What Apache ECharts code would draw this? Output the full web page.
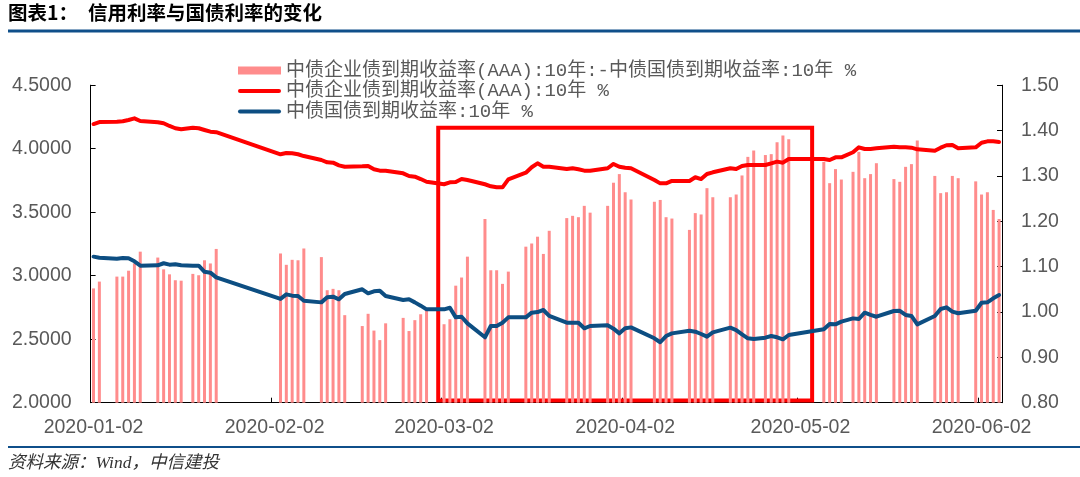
<!DOCTYPE html>
<html>
<head>
<meta charset="utf-8">
<script src="https://cdn.jsdelivr.net/npm/echarts@6/dist/echarts.min.js"></script>
<style>html,body{margin:0;padding:0;background:#fff}#c{width:1080px;height:477px}</style>
</head>
<body>
<div id="c"></div>
<script>
// ---- data ----
const tradeDates = [
 '2020-01-02','2020-01-03','2020-01-06','2020-01-07','2020-01-08','2020-01-09','2020-01-10',
 '2020-01-13','2020-01-14','2020-01-15','2020-01-16','2020-01-17','2020-01-19','2020-01-20',
 '2020-01-21','2020-01-22','2020-01-23',
 '2020-02-03','2020-02-04','2020-02-05','2020-02-06','2020-02-07','2020-02-10','2020-02-11',
 '2020-02-12','2020-02-13','2020-02-14','2020-02-17','2020-02-18','2020-02-19','2020-02-20',
 '2020-02-21','2020-02-24','2020-02-25','2020-02-26','2020-02-27','2020-02-28',
 '2020-03-02','2020-03-03','2020-03-04','2020-03-05','2020-03-06','2020-03-09','2020-03-10',
 '2020-03-11','2020-03-12','2020-03-13','2020-03-16','2020-03-17','2020-03-18','2020-03-19',
 '2020-03-20','2020-03-23','2020-03-24','2020-03-25','2020-03-26','2020-03-27','2020-03-30',
 '2020-03-31',
 '2020-04-01','2020-04-02','2020-04-03','2020-04-07','2020-04-08','2020-04-09','2020-04-10',
 '2020-04-13','2020-04-14','2020-04-15','2020-04-16','2020-04-17','2020-04-20','2020-04-21',
 '2020-04-22','2020-04-23','2020-04-24','2020-04-26','2020-04-27','2020-04-28','2020-04-29',
 '2020-04-30',
 '2020-05-06','2020-05-07','2020-05-08','2020-05-09','2020-05-11','2020-05-12','2020-05-13',
 '2020-05-14','2020-05-15','2020-05-18','2020-05-19','2020-05-20','2020-05-21','2020-05-22',
 '2020-05-25','2020-05-26','2020-05-27','2020-05-28','2020-05-29',
 '2020-06-01','2020-06-02','2020-06-03','2020-06-04','2020-06-05'
];
// spread AAA - government (right axis)
const spreadValues = [
 1.052,1.067,1.078,1.078,1.091,1.107,1.133,1.120,1.094,1.083,1.070,1.069,1.084,1.081,1.114,1.107,1.139,
 1.129,1.104,1.115,1.114,1.140,1.121,1.048,1.051,1.048,0.993,0.969,0.996,0.959,0.938,0.975,0.987,0.958,0.982,0.995,1.003,
 0.973,0.984,1.058,1.076,1.122,1.205,1.092,1.092,1.062,1.089,1.144,1.151,1.166,1.128,1.179,1.207,1.212,1.209,1.234,1.219,1.234,1.285,
 1.304,1.264,1.248,1.243,1.247,1.209,1.206,1.181,1.218,1.215,1.273,1.253,1.253,1.259,1.301,1.342,1.356,1.346,1.348,1.374,1.389,1.381,
 1.331,1.284,1.315,1.292,1.309,1.353,1.295,1.304,1.328,1.293,1.287,1.320,1.326,1.378,1.300,1.262,1.264,1.300,1.295,
 1.288,1.259,1.264,1.225,1.205
];
// AAA corporate 10Y yield (left axis)
const aaaValues = [
 4.194,4.210,4.213,4.216,4.226,4.239,4.218,4.208,4.200,4.179,4.161,4.153,4.165,4.161,4.147,4.134,4.130,
 3.956,3.966,3.964,3.956,3.942,3.911,3.893,3.890,3.869,3.858,3.861,3.864,3.838,3.827,3.827,3.806,3.785,3.780,3.761,3.740,
 3.720,3.735,3.738,3.761,3.754,3.720,3.704,3.696,3.696,3.759,3.811,3.854,3.885,3.858,3.858,3.840,3.846,3.838,3.827,3.827,3.846,3.880,
 3.858,3.850,3.846,3.754,3.727,3.727,3.746,3.746,3.775,3.761,3.801,3.814,3.846,3.840,3.864,3.872,3.872,3.872,3.885,3.898,3.890,3.919,
 3.919,3.911,3.932,3.932,3.972,4.011,3.998,3.998,4.003,4.016,4.011,4.011,4.008,3.995,3.984,4.008,4.027,4.029,4.003,
 4.011,4.047,4.058,4.058,4.053
];
// Government 10Y yield (left axis)
const govValues = [
 3.150,3.142,3.134,3.139,3.137,3.113,3.079,3.082,3.098,3.087,3.090,3.082,3.079,3.079,3.031,3.024,2.987,
 2.817,2.853,2.843,2.840,2.803,2.790,2.830,2.835,2.814,2.856,2.893,2.861,2.877,2.882,2.840,2.809,2.814,2.790,2.764,2.735,
 2.735,2.748,2.672,2.677,2.625,2.515,2.604,2.604,2.630,2.672,2.672,2.709,2.714,2.730,2.683,2.630,2.630,2.630,2.586,2.604,2.609,2.583,
 2.546,2.586,2.593,2.507,2.476,2.525,2.546,2.567,2.559,2.541,2.520,2.554,2.591,2.572,2.538,2.507,2.502,2.512,2.525,2.515,2.499,2.533,
 2.578,2.620,2.617,2.638,2.664,2.659,2.709,2.691,2.677,2.722,2.724,2.691,2.683,2.617,2.683,2.738,2.751,2.717,2.704,
 2.724,2.787,2.790,2.822,2.848
];
const axisStart = '2020-01-02';
const axisEnd = '2020-06-05';
const xTickLabels = ['2020-01-02','2020-02-02','2020-03-02','2020-04-02','2020-05-02','2020-06-02'];
const leftAxis = {min: 2.0, max: 4.5, interval: 0.5};
const rightAxis = {min: 0.8, max: 1.5, interval: 0.1};
const highlightBox = {from: '2020-03-01', to: '2020-05-04', top: 4.165, bottom: 2.018};

const seriesNames = [
 '中债企业债到期收益率(AAA):10年:-中债国债到期收益率:10年 %',
 '中债企业债到期收益率(AAA):10年 %',
 '中债国债到期收益率:10年 %'
];

// ---- build calendar category axis ----
const calendar = [];
for (let d = new Date(axisStart + 'T00:00:00Z'); d <= new Date(axisEnd + 'T00:00:00Z'); d.setUTCDate(d.getUTCDate() + 1)) {
  calendar.push(d.toISOString().slice(0, 10));
}
function onCalendar(values) {
  const out = calendar.map(() => null);
  tradeDates.forEach((t, i) => { out[calendar.indexOf(t)] = values[i]; });
  return out;
}

const labelColor = '#595959';
const numFont = 'Liberation Sans, Arial, sans-serif';
const legendFont = '"Liberation Mono", "Noto Sans CJK SC", monospace';
const lineIcon = 'path://M2,0L41,0A2,2,0,0,1,41,4L2,4A2,2,0,0,1,2,0Z';

const chart = echarts.init(document.getElementById('c'), null, {renderer: 'canvas'});
chart.setOption({
  animation: false,
  backgroundColor: '#ffffff',
  grid: {left: 90.6, right: 78, top: 85.2, bottom: 74.3, containLabel: false},
  legend: {
    orient: 'vertical', left: 233, top: 56, itemGap: 1.5,
    itemWidth: 43, itemHeight: 8,
    textStyle: {color: labelColor, fontSize: 19, fontFamily: legendFont},
    data: [
      {name: seriesNames[0], icon: 'rect'},
      {name: seriesNames[1], icon: lineIcon},
      {name: seriesNames[2], icon: lineIcon}
    ]
  },
  xAxis: {
    type: 'category', data: calendar, boundaryGap: true,
    axisLine: {lineStyle: {color: '#000', width: 1}},
    axisTick: {show: true, inside: true, length: 5, interval: (i, v) => xTickLabels.includes(v), lineStyle: {color: '#000'}},
    axisLabel: {interval: (i, v) => xTickLabels.includes(v), color: labelColor, fontSize: 19.5, fontFamily: numFont, margin: 15},
    splitLine: {show: false}
  },
  yAxis: [
    {
      type: 'value', min: leftAxis.min, max: leftAxis.max, interval: leftAxis.interval,
      axisLine: {show: true, lineStyle: {color: '#000', width: 1}},
      axisTick: {show: true, inside: true, length: 5, lineStyle: {color: '#000'}},
      axisLabel: {color: labelColor, fontSize: 19.5, fontFamily: numFont, margin: 19, formatter: v => v.toFixed(4)},
      splitLine: {show: false}
    },
    {
      type: 'value', position: 'right', min: rightAxis.min, max: rightAxis.max, interval: rightAxis.interval,
      axisLine: {show: true, lineStyle: {color: '#000', width: 1}},
      axisTick: {show: true, inside: true, length: 5, lineStyle: {color: '#000'}},
      axisLabel: {color: labelColor, fontSize: 19.5, fontFamily: numFont, margin: 19, formatter: v => v.toFixed(2)},
      splitLine: {show: false}
    }
  ],
  series: [
    {
      name: seriesNames[0], type: 'bar', yAxisIndex: 1,
      data: onCalendar(spreadValues), barWidth: 3,
      itemStyle: {color: '#ff8c8c'}, clip: true
    },
    {
      name: seriesNames[1], type: 'line', yAxisIndex: 0,
      data: onCalendar(aaaValues), connectNulls: true, symbol: 'none',
      lineStyle: {color: '#ff0000', width: 4, cap: 'round', join: 'round'},
      itemStyle: {color: '#ff0000'}
    },
    {
      name: seriesNames[2], type: 'line', yAxisIndex: 0,
      data: onCalendar(govValues), connectNulls: true, symbol: 'none',
      lineStyle: {color: '#0d4e82', width: 4, cap: 'round', join: 'round'},
      itemStyle: {color: '#0d4e82'},
      markArea: {
        silent: true,
        itemStyle: {color: 'rgba(0,0,0,0)', borderColor: '#ff0000', borderWidth: 4},
        label: {show: false},
        data: [[{xAxis: highlightBox.from, yAxis: highlightBox.top}, {xAxis: highlightBox.to, yAxis: highlightBox.bottom}]]
      },
      z: 3
    }
  ],
  graphic: [
    {type: 'text', left: 8, top: 3, style: {text: '图表1：', font: 'bold 19.5px "Noto Sans CJK SC"', fill: '#000'}},
    {type: 'text', left: 88, top: 3, style: {text: '信用利率与国债利率的变化', font: 'bold 19.5px "Noto Sans CJK SC"', fill: '#000'}},
    {type: 'rect', shape: {x: 8, y: 29.5, width: 1072, height: 3}, style: {fill: '#0f4f8a'}},
    {type: 'rect', shape: {x: 8, y: 446, width: 1072, height: 2}, style: {fill: '#0f4f8a'}},
    {type: 'text', left: 8, top: 455, style: {text: '资料来源：Wind，中信建投', font: 'italic 17.5px "Liberation Serif", "Noto Sans CJK SC"', fill: '#333'}}
  ]
});
</script>
</body>
</html>
